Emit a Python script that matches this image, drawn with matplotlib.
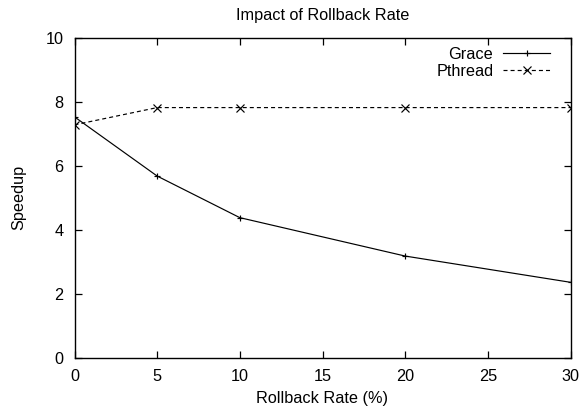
import matplotlib
matplotlib.use("Agg")
import matplotlib.pyplot as plt

rollback = [0, 5, 10, 20, 30]
grace = [7.52, 5.67, 4.37, 3.17, 2.35]
pthread = [7.27, 7.81, 7.81, 7.81, 7.81]
xticks = [0, 5, 10, 15, 20, 25, 30]
yticks = [0, 2, 4, 6, 8, 10]

plt.rcParams['font.family'] = ['Liberation Sans', 'DejaVu Sans']
FS = 11.7
plt.rcParams['font.size'] = FS

fig = plt.figure(figsize=(5.81, 4.09), dpi=100)
ax = fig.add_axes([74.5/581, 1-357.5/409, (570.5-74.5)/581, (357.5-37.5)/409])

ax.plot(rollback, grace, color='black', lw=0.85, marker='+', ms=5.0, mew=0.85, label='Grace')
ax.plot(rollback, pthread, color='black', lw=0.85, ls=(0, (3.4, 2.6)), marker='x', ms=5.5, mew=0.85, label='Pthread')

ax.set_xlim(0, 30)
ax.set_ylim(0, 10)
ax.set_xticks(xticks)
ax.set_yticks(yticks)
ax.tick_params(direction='in', top=True, right=True, length=5.3, width=0.9, pad=8, labelsize=FS)
for s in ax.spines.values():
    s.set_linewidth(1.0)

ax.set_title('Impact of Rollback Rate', fontsize=FS, pad=12.5)
ax.set_xlabel('Rollback Rate (%)', fontsize=FS, labelpad=5)
ax.set_ylabel('Speedup', fontsize=FS, labelpad=14)

leg = ax.legend(loc='upper right', bbox_to_anchor=(0.959, 0.97), frameon=False, markerfirst=False,
                handlelength=2.9, fontsize=FS, borderaxespad=0, borderpad=0,
                handletextpad=0.6, labelspacing=0.1)

fig.savefig('out.png', dpi=100)
